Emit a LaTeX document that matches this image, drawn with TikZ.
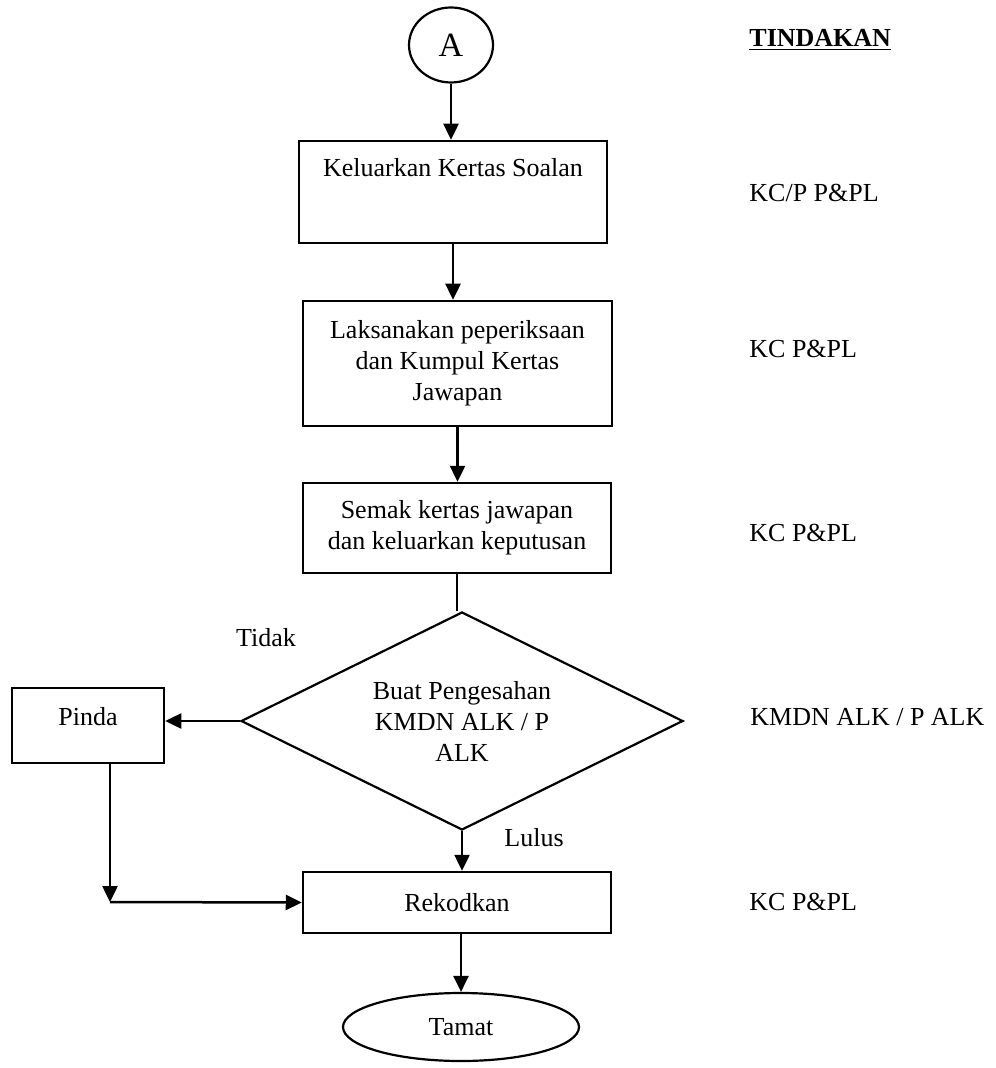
\documentclass[tikz,border=0pt]{standalone}
\usepackage{fontspec}
\setmainfont{Liberation Serif}
\usetikzlibrary{shapes.geometric,arrows.meta}
\tikzset{
  base/.style={font=\fontsize{13pt}{15.5pt}\selectfont},
  boxnode/.style={base,draw,line width=1.25pt,rectangle,align=center,inner sep=0pt},
  termnode/.style={base,draw,line width=1.1pt,ellipse,inner sep=0pt},
  decnode/.style={base,draw,line width=1.1pt,diamond,aspect=2,align=center,inner sep=0pt},
  lbl/.style={base,inner sep=0pt},
  actlbl/.style={base,inner sep=0pt,anchor=west},
  arr/.style={line width=1.25pt,-{Triangle[length=8pt,width=7.5pt]}},
  conn/.style={line width=1.25pt}
}
\begin{document}
\begin{tikzpicture}[x=0.5pt,y=-0.5pt]
\useasboundingbox (0,0) rectangle (995,1068);

\node[termnode,minimum width=42pt,minimum height=37.5pt,font=\fontsize{17pt}{20pt}\selectfont] (A) at (451,45) {A};
\node[boxnode,minimum width=154pt,minimum height=51pt,text height=9pt,text depth=24pt] (k1) at (453,192) {Keluarkan Kertas Soalan};
\node[boxnode,minimum width=154.5pt,minimum height=62.5pt] (k2) at (457.5,363.5) {Laksanakan peperiksaan\\dan Kumpul Kertas\\Jawapan};
\node[boxnode,minimum width=154pt,minimum height=45pt] (k3) at (457,528) {Semak kertas jawapan\\dan keluarkan keputusan};
\node[decnode,minimum width=221pt,minimum height=109pt] (dec) at (462,721) {Buat Pengesahan\\KMDN ALK / P\\ALK};
\node[boxnode,minimum width=76pt,minimum height=37.5pt,text height=9pt,text depth=9.5pt] (pinda) at (88,725.5) {Pinda};
\node[boxnode,minimum width=154pt,minimum height=30.5pt] (rek) at (457,902.5) {Rekodkan};
\node[termnode,minimum width=118pt,minimum height=34pt] (tamat) at (461,1027) {Tamat};

\node[lbl] (tidak) at (266,638) {Tidak};
\node[lbl] (lulus) at (534,838) {Lulus};

\node[actlbl] (t0) at (749,40) {\textbf{\underline{TINDAKAN}}};
\node[actlbl] (t1) at (749,193) {KC/P P\&PL};
\node[actlbl] (t2) at (749,349) {KC P\&PL};
\node[actlbl] (t3) at (749,533) {KC P\&PL};
\node[actlbl] (t4) at (750,717) {KMDN ALK / P ALK};
\node[actlbl] (t5) at (749,902) {KC P\&PL};

\coordinate (j) at (110,902);

\draw[arr] (A.south) -- (A.south |- k1.north);
\draw[arr] (k1.south) -- (k1.south |- k2.north);
\draw[arr] (k2.south) -- (k2.south |- k3.north);
\draw[conn] (k3.south) -- (k3.south |- dec.north);
\draw[arr] (dec.west) -- (dec.west -| pinda.east);
\draw[arr] (dec.south) -- (dec.south |- rek.north);
\draw[arr] (pinda.south -| j) -- (j);
\draw[arr] (j) -- (rek.west);
\draw[arr] (rek.south -| tamat.north) -- (tamat.north);
\end{tikzpicture}
\end{document}
